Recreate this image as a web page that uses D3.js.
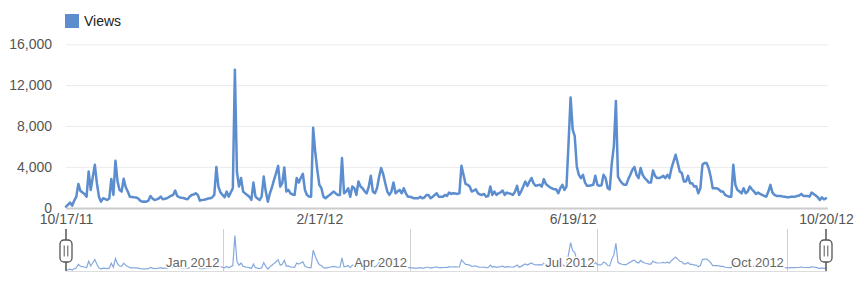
<!DOCTYPE html>
<html><head><meta charset="utf-8">
<script src="https://cdn.jsdelivr.net/npm/d3@7"></script>
<style>
body{margin:0;background:#fff;}
svg{display:block;font-family:"Liberation Sans",Arial,sans-serif;}
</style></head><body><svg id="c" width="858" height="290"></svg>
<script>
const seriesName = "Views";
const startDate = "2011-10-17";
const endDate = "2012-10-20";
const views = [
100,300,490,200,700,1080,2330,1640,1500,1350,
1080,3550,1740,3000,4200,2400,1080,590,920,850,
760,900,2800,1250,4600,2600,1740,1580,2830,2000,
1580,1080,1050,1020,1000,920,700,590,600,590,
690,1150,900,760,820,900,1080,820,880,920,
1050,1150,1250,1680,1150,1020,980,950,880,820,
1080,1250,1300,1410,1250,690,760,780,820,900,
920,1020,1250,3980,2070,1500,1250,1020,1580,1080,
1500,1910,13500,3500,2070,2900,1580,1400,1250,1080,
760,2460,1080,900,760,1080,3050,1580,590,1410,
2000,2730,3390,4100,2070,2400,3940,1580,1740,1410,
1300,1250,2900,2460,2900,3320,1740,1250,1100,1080,
7820,5500,3710,2240,1910,1080,920,1100,1250,1410,
1580,1400,1250,1250,4860,1410,1580,1910,1080,2070,
1910,1250,2560,2070,1910,1600,1410,2070,3120,1580,
1410,1910,3000,3880,3300,2400,1580,1250,1580,2460,
1410,1600,1740,1410,1910,1410,1080,1080,1000,920,
920,920,1080,920,1000,1250,1250,920,1080,1250,
1410,1080,1080,1080,1250,1150,1480,1350,1410,1380,
1350,1410,4100,3220,2330,2240,2070,1580,1680,1800,
1410,1300,1250,1350,1080,1150,2070,1250,1580,1250,
1410,1500,1680,1250,1480,1410,1350,1250,1580,2140,
1250,1600,2070,2560,2140,2560,2900,2400,2140,2200,
2240,2070,2800,2330,2140,2000,1900,1800,1800,1410,
1910,2240,1740,2070,6340,10780,7650,7000,4040,3220,
2900,3220,2460,2140,2140,2200,2240,3120,2240,2140,
2200,3220,2900,1910,1800,4370,6010,10440,3050,2660,
2400,2240,2240,2800,3220,3710,3980,3220,2900,3880,
3220,2900,2700,2460,2460,3650,3120,2900,2900,3000,
3120,2900,3220,2900,3880,4530,5190,4370,3550,3390,
2560,2560,3120,2400,2400,2070,2100,1410,1910,4200,
4370,4370,3880,3050,1910,1900,1900,1800,1580,1580,
1250,1150,1080,1080,4200,2240,1740,1600,1410,1910,
1410,1580,2070,1800,1600,1350,1480,1350,1250,1150,
1080,1580,2240,1480,1250,1150,1150,1150,1100,1080,
1020,1020,1080,1080,1080,1150,1200,1350,1150,1150,
1150,1080,1480,1350,1200,1020,760,1020,820,920
];
const yTicks = [0, 4000, 8000, 12000, 16000];
const xTickLabels = ["10/17/11", "2/17/12", "6/19/12", "10/20/12"];
const navTickDates = ["2012-01-01", "2012-04-01", "2012-07-01", "2012-10-01"];
const navTickLabels = ["Jan 2012", "Apr 2012", "Jul 2012", "Oct 2012"];

const lineColor = "#5b8dcf";
const navColor = "#86a9dd";

const parseISO = d3.timeParse("%Y-%m-%d");
const parseMDY = d3.timeParse("%m/%d/%y");
const t0 = parseISO(startDate), t1 = parseISO(endDate);
const data = views.map((v, i) => ({date: d3.timeDay.offset(t0, i), value: v}));

const svg = d3.select("#c");
const x = d3.scaleTime().domain([t0, t1]).range([66, 826]);
const y = d3.scaleLinear().domain([0, 16000]).range([207.7, 44.3]);
const yNav = d3.scaleLinear().domain([0, 13500]).range([270.5, 235.5]);

// legend
svg.append("rect").attr("x", 65).attr("y", 14).attr("width", 14).attr("height", 14).attr("fill", lineColor);
svg.append("text").attr("x", 84).attr("y", 26).attr("fill", "#222").style("font-size", "14px").text(seriesName);

// y axis with gridlines
const gy = svg.append("g").attr("transform", "translate(66,0)")
  .call(d3.axisLeft(y).tickValues(yTicks).tickFormat(d3.format(",")).tickSize(-762).tickPadding(14));
gy.attr("font-family", null).attr("font-size", null);
gy.select(".domain").remove();
gy.selectAll(".tick line").attr("stroke", "#ebebeb").attr("stroke-width", 1)
  .filter(d => d === 0).remove();
gy.selectAll(".tick text").attr("fill", "#555").style("font-size", "14px");

// x axis baseline
svg.append("line").attr("x1", 66).attr("x2", 828).attr("y1", 208.5).attr("y2", 208.5)
  .attr("stroke", "#cccccc").attr("stroke-width", 2);

// x axis labels
const gx = svg.append("g").attr("transform", "translate(0,208)")
  .call(d3.axisBottom(x).tickValues(xTickLabels.map(parseMDY)).tickFormat(d3.timeFormat("%-m/%-d/%y")).tickSize(0).tickPadding(6));
gx.attr("font-family", null).attr("font-size", null);
gx.select(".domain").remove();
gx.selectAll(".tick text").attr("fill", "#555").style("font-size", "14px");

// main line
svg.append("path").datum(data)
  .attr("fill", "none").attr("stroke", lineColor).attr("stroke-width", 2.5)
  .attr("stroke-linejoin", "round").attr("stroke-linecap", "round")
  .attr("d", d3.line().x(d => x(d.date)).y(d => y(d.value)));

// navigator
const nav = svg.append("g");
nav.append("line").attr("x1", 66).attr("x2", 827).attr("y1", 271.5).attr("y2", 271.5)
  .attr("stroke", "#dddddd").attr("stroke-width", 1);
nav.selectAll(".mline").data(navTickDates.map(parseISO)).enter().append("line")
  .attr("x1", d => Math.round(x(d)) + 0.5).attr("x2", d => Math.round(x(d)) + 0.5)
  .attr("y1", 229).attr("y2", 271).attr("stroke", "#d0d0d0").attr("stroke-width", 1);
nav.append("path").datum(data)
  .attr("fill", "none").attr("stroke", navColor).attr("stroke-width", 1.2)
  .attr("d", d3.line().x(d => x(d.date)).y(d => yNav(d.value)));
nav.selectAll(".mlabel").data(navTickDates.map(parseISO)).enter().append("text")
  .attr("x", d => x(d) - 3).attr("y", 267).attr("text-anchor", "end")
  .attr("fill", "#666").style("font-size", "13px")
  .attr("stroke", "#fff").attr("stroke-width", 3).attr("paint-order", "stroke")
  .text((d, i) => navTickLabels[i]);

// handles
[t0, t1].forEach(t => {
  const hx = Math.round(x(t));
  const g = svg.append("g");
  g.append("line").attr("x1", hx).attr("x2", hx).attr("y1", 229).attr("y2", 271)
    .attr("stroke", "#555").attr("stroke-width", 1.5);
  g.append("rect").attr("x", hx - 6).attr("y", 240).attr("width", 12).attr("height", 22).attr("rx", 4)
    .attr("fill", "#fff").attr("stroke", "#555").attr("stroke-width", 1.3);
  [-1.8, 1.8].forEach(o => g.append("line").attr("x1", hx + o).attr("x2", hx + o)
    .attr("y1", 245.5).attr("y2", 256.5).attr("stroke", "#555").attr("stroke-width", 1));
});
</script></body></html>
